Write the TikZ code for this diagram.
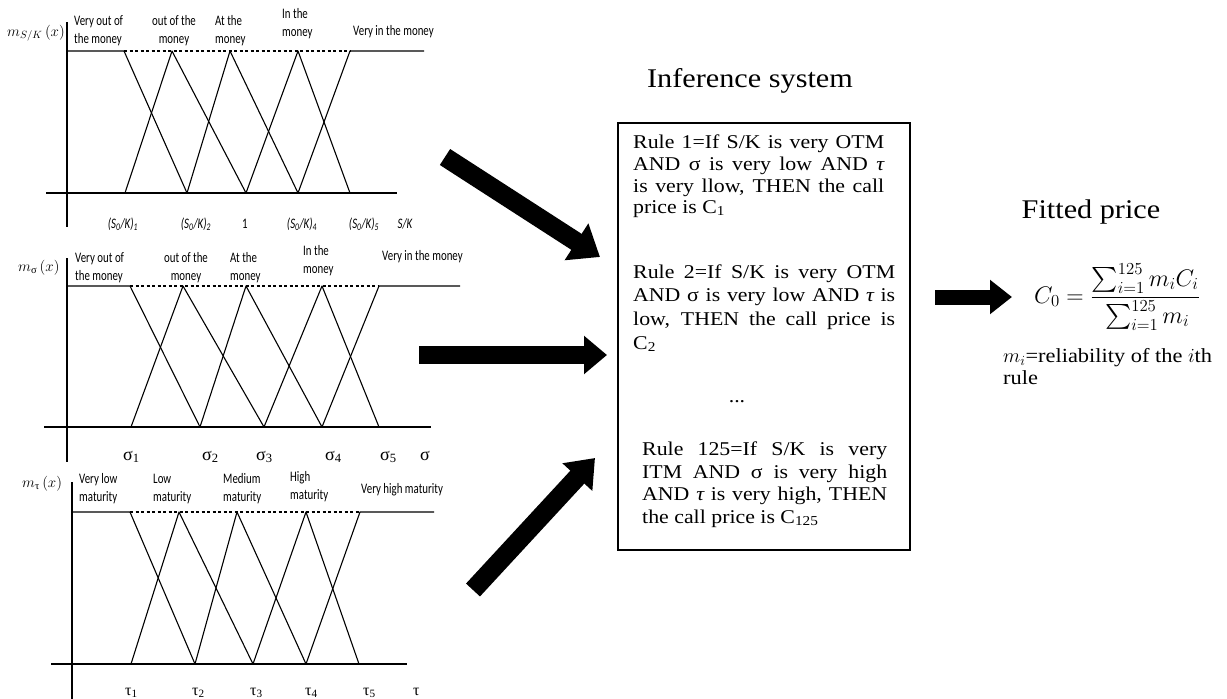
\RequirePackage{fix-cm}
\documentclass[tikz,border=0pt]{standalone}
\usepackage{amsmath}
\usepackage{fontspec}
\usetikzlibrary{arrows.meta}
\newfontfamily\nar[FakeStretch=0.75]{Carlito}
\newfontfamily\grk{Liberation Serif}
\newfontfamily\bxf[FakeStretch=1.12]{Liberation Serif}
\newcommand\twol[3][l]{\begin{tabular}[t]{@{}#1@{}}#2\\#3\end{tabular}}
\tikzset{
  mf/.style={line width=1.1pt, line join=round},
  topdash/.style={line width=1.1pt, dash pattern=on 3pt off 2.5pt},
  lbl/.style={font=\nar\fontsize{14.5}{18}\selectfont, inner sep=0pt, anchor=base west},
  lblc/.style={lbl, anchor=base},
  xlab/.style={font=\nar\itshape\fontsize{14.5}{16}\selectfont, inner sep=0pt, anchor=base},
  glab/.style={font=\grk\fontsize{18}{20}\selectfont, inner sep=0pt, anchor=base west},
  tlab/.style={font=\grk\fontsize{16}{18}\selectfont, inner sep=0pt, anchor=base west},
  ylab/.style={font=\fontsize{15}{17}\selectfont, inner sep=0pt, anchor=base west},
  bx/.style={font=\bxf\fontsize{19.5}{22}\selectfont, inner sep=0pt, anchor=base west},
  ttl/.style={font=\bxf\fontsize{27}{30}\selectfont, inner sep=0pt, anchor=base},
}
\begin{document}
\begin{tikzpicture}[x=1pt,y=-1pt]
\useasboundingbox (0,0) rectangle (1227,699);

% ---------- panel 1 : S/K ----------
\draw[mf] (67,22) -- (67,227);
\draw[mf] (46,193) -- (397,193);
\draw[mf] (67,51) -- (124,51) -- (187,193);
\draw[mf] (125,193) -- (172,51) -- (246,193);
\draw[mf] (187,193) -- (230,51) -- (298,193);
\draw[mf] (246,193) -- (298,51) -- (350,193);
\draw[mf] (298,193) -- (350,51) -- (424,51);
\draw[topdash] (124,51) -- (350,51);
\node[ylab] (y1) at (7,36) {$m_{S/K}\,(x)$};
\node[lbl] (p1a) at (74,25) {\twol{Very out of}{the money}};
\node[lblc] (p1b) at (174,25) {\twol[c]{out of the}{money}};
\node[lbl] (p1c) at (215,25) {\twol{At the}{money}};
\node[lbl] (p1d) at (282,18) {\twol{In the}{money}};
\node[lbl] (p1e) at (353,35) {Very in the money};
\node[xlab] (x11) at (123,228) {(S\textsubscript{0}/K)\textsubscript{1}};
\node[xlab] (x12) at (196,228) {(S\textsubscript{0}/K)\textsubscript{2}};
\node[xlab] (x13) at (245,228) {\upshape 1};
\node[xlab] (x14) at (302,228) {(S\textsubscript{0}/K)\textsubscript{4}};
\node[xlab] (x15) at (364,228) {(S\textsubscript{0}/K)\textsubscript{5}};
\node[xlab] (x16) at (405,228) {S/K};

% ---------- panel 2 : sigma ----------
\draw[mf] (67,258) -- (67,462);
\draw[mf] (44,427) -- (431,427);
\draw[mf] (67,286) -- (130,286) -- (200,427);
\draw[mf] (131,427) -- (183,286) -- (264,427);
\draw[mf] (200,427) -- (246,286) -- (322,427);
\draw[mf] (264,427) -- (322,286) -- (379,427);
\draw[mf] (322,427) -- (379,286) -- (460,286);
\draw[topdash] (130,286) -- (379,286);
\node[ylab] (y2) at (18,271) {$m_{\text{\grk σ}}\,(x)$};
\node[lbl] (p2a) at (75,262) {\twol{Very out of}{the money}};
\node[lblc] (p2b) at (186,262) {\twol[c]{out of the}{money}};
\node[lbl] (p2c) at (230,262) {\twol{At the}{money}};
\node[lbl] (p2d) at (303,255) {\twol{In the}{money}};
\node[lbl] (p2e) at (382,260) {Very in the money};
\node[glab] (x21) at (123,460) {σ\textsubscript{1}};
\node[glab] (x22) at (202,460) {σ\textsubscript{2}};
\node[glab] (x23) at (256,460) {σ\textsubscript{3}};
\node[glab] (x24) at (325,460) {σ\textsubscript{4}};
\node[glab] (x25) at (380,460) {σ\textsubscript{5}};
\node[glab] (x26) at (420,460) {σ};

% ---------- panel 3 : tau ----------
\draw[mf] (72,482) -- (72,699);
\draw[mf] (51,664) -- (407,664);
\draw[mf] (72,512) -- (130,512) -- (195,664);
\draw[mf] (131,664) -- (179,512) -- (253,664);
\draw[mf] (195,664) -- (237,512) -- (306,664);
\draw[mf] (253,664) -- (306,512) -- (359,664);
\draw[mf] (306,664) -- (360,512) -- (434,512);
\draw[topdash] (130,512) -- (360,512);
\node[ylab] (y3) at (22,487) {$m_{\text{\grk τ}}\,(x)$};
\node[lbl] (p3a) at (79,483) {\twol{Very low}{maturity}};
\node[lbl] (p3b) at (153,483) {\twol{Low}{maturity}};
\node[lbl] (p3c) at (223,483) {\twol{Medium}{maturity}};
\node[lbl] (p3d) at (290,481) {\twol{High}{maturity}};
\node[lbl] (p3e) at (361,493) {Very high maturity};
\node[tlab] (x31) at (125,695) {τ\textsubscript{1}};
\node[tlab] (x32) at (192,695) {τ\textsubscript{2}};
\node[tlab] (x33) at (250,695) {τ\textsubscript{3}};
\node[tlab] (x34) at (305,695) {τ\textsubscript{4}};
\node[tlab] (x35) at (363,695) {τ\textsubscript{5}};
\node[tlab] (x36) at (413,695) {τ};

% ---------- inference box ----------
\node[ttl] (title) at (750,87) {Inference system};
\node[draw, line width=2.5pt, minimum width=292pt, minimum height=427pt, inner sep=0pt] (box) at (764,336.5) {};
\node[bx] (r1a) at (633,148) {\makebox[251pt][s]{Rule 1=If S/K is very OTM}};
\node[bx] (r1b) at (633,170) {\makebox[251pt][s]{AND σ is very low AND {\itshape τ}}};
\node[bx] (r1c) at (633,192) {\makebox[251pt][s]{is very llow, THEN the call}};
\node[bx] (r1d) at (633,213) {price is C\textsubscript{1}};
\node[bx] (r2a) at (633,278) {\makebox[262pt][s]{Rule 2=If S/K is very OTM}};
\node[bx] (r2b) at (633,301) {\makebox[262pt][s]{AND σ is very low AND {\itshape τ} is}};
\node[bx] (r2c) at (633,325) {\makebox[262pt][s]{low, THEN the call price is}};
\node[bx] (r2d) at (633,349) {C\textsubscript{2}};
\node[bx, anchor=base] (dots) at (737,402) {...};
\node[bx] (r3a) at (642,455) {\makebox[245pt][s]{Rule 125=If S/K is very}};
\node[bx] (r3b) at (642,478) {\makebox[245pt][s]{ITM AND σ is very high}};
\node[bx] (r3c) at (642,500) {\makebox[245pt][s]{AND {\itshape τ} is very high, THEN}};
\node[bx] (r3d) at (642,523) {the call price is C\textsubscript{125}};

% ---------- fitted price ----------
\node[ttl] (fit) at (1091,218) {Fitted price};
\node[inner sep=0pt, font=\fontsize{24}{28}\selectfont] (form) at (1117,297)
  {$\displaystyle C_0=\frac{\sum_{i=1}^{125} m_iC_i\rule[-5pt]{0pt}{5pt}}{\rule{0pt}{19pt}\sum_{i=1}^{125} m_i}$};
\node[bx, font=\bxf\fontsize{20}{23}\selectfont] (rel1) at (1003,362) {$m_i$=reliability of the $i$th};
\node[bx, font=\bxf\fontsize{20}{23}\selectfont] (rel2) at (1003,384) {rule};

% ---------- arrows ----------
\coordinate (a1t) at (445,157);
\coordinate (a1h) at (600,257);
\coordinate (a2t) at (419,355);
\coordinate (a2h) at (607,355);
\coordinate (a3t) at (473,590);
\coordinate (a3h) at (595,458);
\coordinate (a4t) at (935,297);
\coordinate (a4h) at (1012,297);
\draw[line width=19pt, -{Triangle[length=28pt,width=42pt]}] (a1t) -- (a1h);
\draw[line width=18pt, -{Triangle[length=23pt,width=37pt]}] (a2t) -- (a2h);
\draw[line width=19pt, -{Triangle[length=26pt,width=39pt]}] (a3t) -- (a3h);
\draw[line width=15pt, -{Triangle[length=22pt,width=33pt]}] (a4t) -- (a4h);
\end{tikzpicture}
\end{document}
